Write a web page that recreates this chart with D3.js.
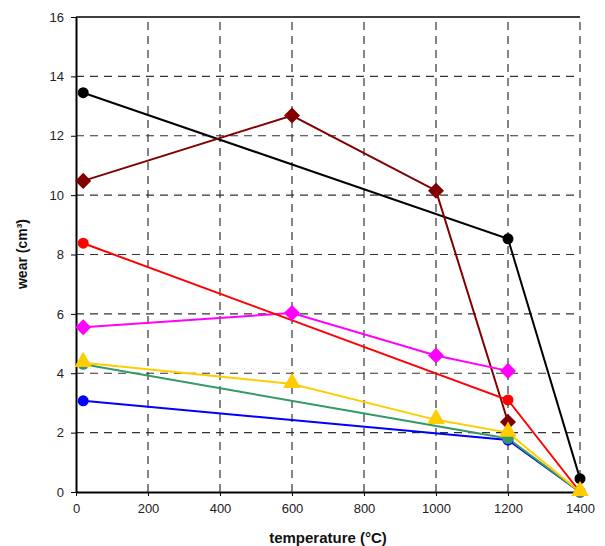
<!DOCTYPE html>
<html><head><meta charset="utf-8">
<script src="https://cdn.jsdelivr.net/npm/d3@7"></script>
<style>body{margin:0;background:#fff}svg{display:block}text{font-family:"Liberation Sans",Arial,sans-serif}</style>
</head><body><svg id="c" width="605" height="546"></svg>
<script>
const xTicks = [0,200,400,600,800,1000,1200,1400];
const yTicks = [0,2,4,6,8,10,12,14,16];
const black   = [[20,13.45],[1200,8.53],[1400,0.45]];
const darkred = [[20,10.48],[600,12.68],[1000,10.15],[1200,2.36]];
const magenta = [[20,5.55],[600,6.03],[1000,4.6],[1200,4.08]];
const red     = [[20,8.38],[1200,3.1],[1400,0]];
const blue    = [[20,3.07],[1200,1.75],[1400,0]];
const green   = [[20,4.3],[1200,1.8],[1400,0]];
const yellow  = [[20,4.35],[600,3.64],[1000,2.43],[1200,2.0],[1400,0]];
const series = [
  {d:black,c:"#000000",m:"circle"},
  {d:darkred,c:"#800000",m:"diamond"},
  {d:magenta,c:"#ff00ff",m:"diamond"},
  {d:red,c:"#ff0000",m:"circle"},
  {d:blue,c:"#0000ff",m:"circle"},
  {d:green,c:"#339966",m:"circle"},
  {d:yellow,c:"#ffcc00",m:"triangle"}
];
const svg = d3.select("#c");
const x = d3.scaleLinear().domain([0,1400]).range([76,580]);
const y = d3.scaleLinear().domain([0,16]).range([492,17]);
const g = svg.append("g");
g.selectAll(".gx").data(xTicks.slice(1)).join("line")
  .attr("x1",d=>x(d)).attr("x2",d=>x(d)).attr("y1",y(0)).attr("y2",y(16))
  .attr("stroke","#333").attr("stroke-width",1.2).attr("stroke-dasharray","8,6");
g.selectAll(".gy").data(yTicks.slice(1,-1)).join("line")
  .attr("x1",x(0)).attr("x2",x(1400)).attr("y1",d=>y(d)).attr("y2",d=>y(d))
  .attr("stroke","#333").attr("stroke-width",1.2).attr("stroke-dasharray","8,6");
g.append("line").attr("x1",x(0)).attr("x2",x(1400)).attr("y1",y(16)).attr("y2",y(16)).attr("stroke","#000").attr("stroke-width",1.5);
const fmt = d3.format("d");
const xa = svg.append("g").attr("transform",`translate(0,${y(0)})`)
  .call(d3.axisBottom(x).tickValues(xTicks).tickFormat(fmt).tickSize(4).tickPadding(8).tickSizeOuter(0));
const ya = svg.append("g").attr("transform",`translate(${x(0)},0)`)
  .call(d3.axisLeft(y).tickValues(yTicks).tickFormat(fmt).tickSize(5).tickPadding(7).tickSizeOuter(0));
[xa,ya].forEach(a=>{a.select(".domain").attr("stroke","#000").attr("stroke-width",2);
  a.selectAll(".tick line").attr("stroke","#000");
  a.selectAll("text").attr("font-size",13).attr("fill","#222").attr("font-family","Liberation Sans,Arial,sans-serif");});
const line = d3.line().x(d=>x(d[0])).y(d=>y(d[1]));
series.forEach(s=>{
  svg.append("path").datum(s.d).attr("d",line).attr("fill","none").attr("stroke",s.c).attr("stroke-width",2);
});
series.forEach(s=>{
  const sym = s.m==="circle"?d3.symbolCircle:s.m==="diamond"?d3.symbolSquare:d3.symbolTriangle;
  const size = s.m==="circle"?95:s.m==="diamond"?128:135;
  svg.selectAll(null).data(s.d).join("path")
    .attr("transform",d=>s.m==="diamond"?`translate(${x(d[0])},${y(d[1])}) rotate(45)`:s.m==="triangle"?`translate(${x(d[0])},${y(d[1])-1})`:`translate(${x(d[0])},${y(d[1])})`)
    .attr("d",d3.symbol(sym,size)).attr("fill",s.c);
});
svg.append("text").attr("x",328).attr("y",543).attr("text-anchor","middle")
  .attr("font-size",15).attr("font-weight","bold").attr("fill","#111").text("temperature (°C)");
svg.append("text").attr("transform","translate(27,254) rotate(-90)").attr("text-anchor","middle")
  .attr("font-size",14).attr("font-weight","bold").attr("fill","#111").text("wear (cm³)");
</script></body></html>
